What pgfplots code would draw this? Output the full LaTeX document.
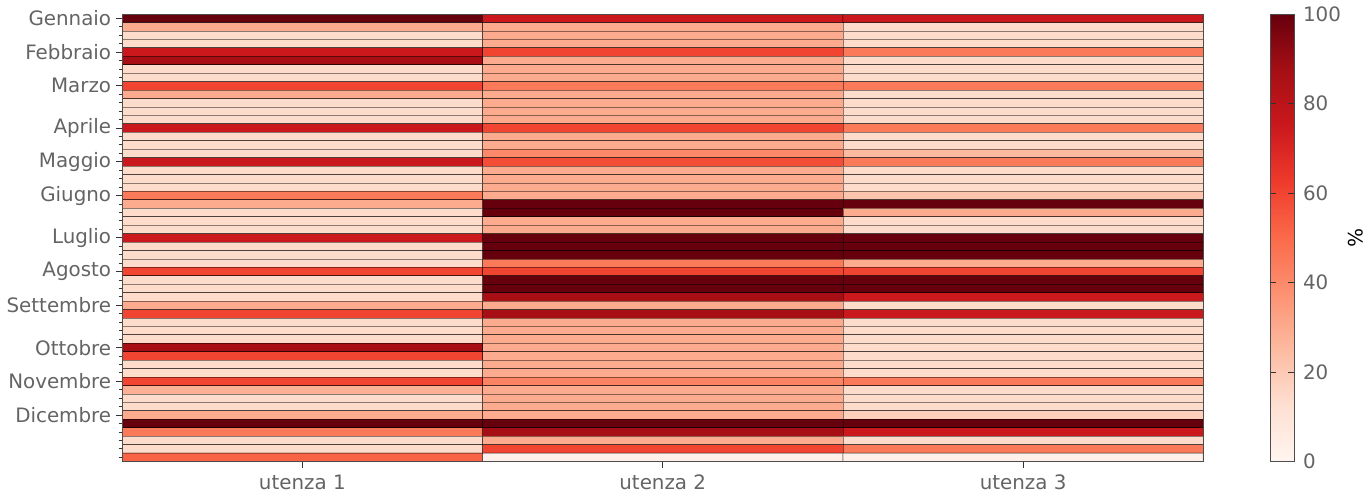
\documentclass[border=0pt]{standalone}
\usepackage{fontspec}
\setmainfont{DejaVu Sans}
\usepackage{pgfplots}
\usepackage{pgfplotstable}
\pgfplotsset{compat=1.18}
\definecolor{txtgray}{RGB}{100,100,100}
\pgfplotstableread{
x y c
0 0 100
1 0 75
2 0 75
0 1 30
1 1 30
2 1 14
0 2 14
1 2 30
2 2 14
0 3 14
1 3 30
2 3 14
0 4 75
1 4 60
2 4 45
0 5 87
1 5 30
2 5 14
0 6 14
1 6 30
2 6 14
0 7 14
1 7 30
2 7 14
0 8 60
1 8 45
2 8 45
0 9 30
1 9 30
2 9 14
0 10 14
1 10 30
2 10 14
0 11 14
1 11 30
2 11 14
0 12 14
1 12 30
2 12 14
0 13 75
1 13 60
2 13 45
0 14 14
1 14 30
2 14 14
0 15 14
1 15 30
2 15 14
0 16 14
1 16 40
2 16 25
0 17 75
1 17 58
2 17 45
0 18 14
1 18 30
2 18 14
0 19 14
1 19 30
2 19 14
0 20 14
1 20 30
2 20 14
0 21 45
1 21 30
2 21 22
0 22 30
1 22 100
2 22 100
0 23 14
1 23 100
2 23 30
0 24 14
1 24 30
2 24 14
0 25 14
1 25 30
2 25 14
0 26 75
1 26 100
2 26 100
0 27 14
1 27 100
2 27 100
0 28 14
1 28 100
2 28 100
0 29 14
1 29 45
2 29 30
0 30 60
1 30 60
2 30 60
0 31 14
1 31 100
2 31 100
0 32 14
1 32 100
2 32 100
0 33 14
1 33 87
2 33 75
0 34 30
1 34 30
2 34 14
0 35 60
1 35 87
2 35 75
0 36 14
1 36 30
2 36 14
0 37 14
1 37 30
2 37 14
0 38 14
1 38 30
2 38 14
0 39 87
1 39 30
2 39 14
0 40 60
1 40 30
2 40 14
0 41 14
1 41 30
2 41 14
0 42 14
1 42 30
2 42 14
0 43 60
1 43 42
2 43 45
0 44 28
1 44 30
2 44 14
0 45 14
1 45 30
2 45 14
0 46 14
1 46 30
2 46 14
0 47 30
1 47 30
2 47 18
0 48 100
1 48 100
2 48 100
0 49 45
1 49 87
2 49 75
0 50 14
1 50 30
2 50 14
0 51 14
1 51 60
2 51 45
0 52 52
1 52 3
2 52 3
}\heat
\begin{document}
\begin{tikzpicture}
\begin{axis}[
  scale only axis,
  width=542.5bp, height=224.5bp,
  xmin=-0.5, xmax=2.5,
  ymin=-0.5, ymax=52.5,
  y dir=reverse,
  xtick={0,1,2},
  xticklabels={utenza 1,utenza 2,utenza 3},
  ytick={0,4,8,13,17,21,26,30,34,39,43,47},
  yticklabels={Gennaio,Febbraio,Marzo,Aprile,Maggio,Giugno,Luglio,Agosto,Settembre,Ottobre,Novembre,Dicembre},
  minor ytick={0,1,...,52},
  tick pos=left,
  tick align=outside,
  major tick length=3bp,
  minor tick length=1.6bp,
  every tick/.style={black!80, line width=0.5bp},
  tick label style={font=\fontsize{10}{12}\selectfont, text=txtgray},
  yticklabel style={xshift=1bp},
  axis line style={black!70, line width=0.5bp},
  axis on top,
  /pgf/number format/assume math mode=true,
  colormap={reds}{rgb255=(255,245,240) rgb255=(254,224,210) rgb255=(252,187,161) rgb255=(252,146,114) rgb255=(251,106,74) rgb255=(239,59,44) rgb255=(203,24,29) rgb255=(165,15,21) rgb255=(103,0,13)},
  point meta min=0, point meta max=100,
  colorbar,
  colorbar style={
    at={(parent axis.north east)}, anchor=north west,
    xshift=25bp,
    width=12bp, height=224.5bp,
    ytick={0,20,40,60,80,100},
    ylabel={\%},
    ylabel near ticks,
    ylabel style={font=\fontsize{10}{12}\selectfont, rotate=180, inner sep=0pt},
    tick label style={font=\fontsize{10}{12}\selectfont, text=txtgray},
    yticklabel style={xshift=1bp},
    major tick length=3bp,
    axis line style={black!70, line width=0.5bp},
    /pgf/number format/assume math mode=true,
  },
]
\addplot[matrix plot*, mesh/cols=3, point meta=explicit, draw=black, draw opacity=0.45, line width=0.45bp] table[x=x, y=y, meta=c] {\heat};
\end{axis}
\end{tikzpicture}
\end{document}
